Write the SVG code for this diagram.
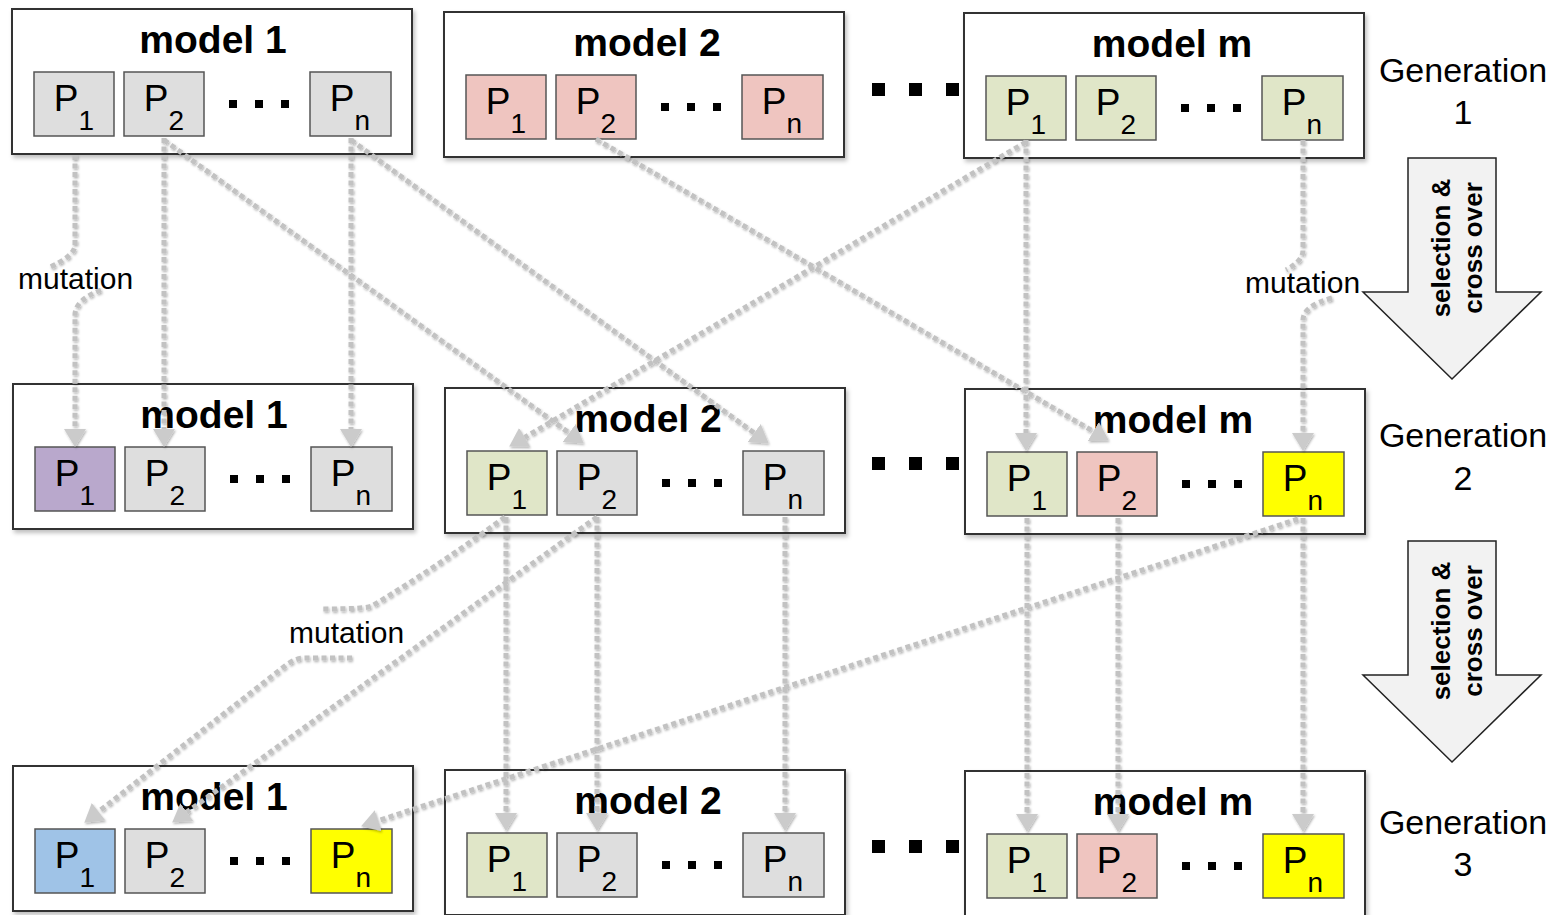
<svg xmlns="http://www.w3.org/2000/svg" width="1566" height="915" viewBox="0 0 1566 915">
<defs>
<style>
.box{fill:#fff;stroke:#333;stroke-width:2;filter:url(#bsh)}
.pb{stroke:#555;stroke-width:1.5}
.gray{fill:#dedede}.pink{fill:#efc5c0}.green{fill:#e0e6c8}.purple{fill:#b9a8cc}.blue{fill:#9fc3e7}.yellow{fill:#ffff00}
.title{font-family:"Liberation Sans",Arial,sans-serif;font-weight:bold;font-size:39px;text-anchor:middle;fill:#000}
.p{font-family:"Liberation Sans",Arial,sans-serif;font-size:37px;text-anchor:middle;fill:#000}
.sub{font-size:28px}
.d{fill:#000}
.conn{fill:none;stroke:#c2c2c2;stroke-width:5;stroke-dasharray:5 3.5;marker-end:url(#ah)}
.lbl{font-family:"Liberation Sans",Arial,sans-serif;font-size:30px;fill:#000}
.gen{font-family:"Liberation Sans",Arial,sans-serif;font-size:34px;text-anchor:middle;fill:#000}
.big{fill:#f2f2f2;stroke:#222;stroke-width:1.5}
.bigt{font-family:"Liberation Sans",Arial,sans-serif;font-weight:bold;font-size:26px;text-anchor:middle;fill:#000}
</style>
<filter id="bsh" x="-5%" y="-5%" width="115%" height="120%">
<feDropShadow dx="2" dy="3" stdDeviation="2" flood-color="#000" flood-opacity="0.25"/>
</filter>
<filter id="csh" x="-10%" y="-10%" width="120%" height="120%">
<feDropShadow dx="1" dy="1.5" stdDeviation="1" flood-color="#000" flood-opacity="0.3"/>
</filter>
<marker id="ah" markerUnits="userSpaceOnUse" markerWidth="18" markerHeight="22" viewBox="0 0 18 22" refX="0" refY="11" orient="auto">
<path d="M0,0 L18,11 L0,22 Z" fill="#cbcbcb"/>
</marker>
</defs>
<rect x="0" y="0" width="1566" height="915" fill="#fff"/>

<!-- Generation 1 -->
<g id="g1-model1">
<rect class="box" x="12" y="9" width="400" height="145"/>
<text class="title" x="213" y="53">model 1</text>
<rect class="pb gray" x="34" y="72" width="80" height="64"/>
<text class="p" x="74" y="111">P<tspan class="sub" dy="19">1</tspan></text>
<rect class="pb gray" x="124" y="72" width="80" height="64"/>
<text class="p" x="164" y="111">P<tspan class="sub" dy="19">2</tspan></text>
<rect class="d" x="229" y="100" width="8" height="8"/><rect class="d" x="255" y="100" width="8" height="8"/><rect class="d" x="281" y="100" width="8" height="8"/>
<rect class="pb gray" x="310" y="72" width="81" height="64"/>
<text class="p" x="350" y="111">P<tspan class="sub" dy="19">n</tspan></text>
</g>
<g id="g1-model2">
<rect class="box" x="444" y="12" width="400" height="145"/>
<text class="title" x="647" y="56">model 2</text>
<rect class="pb pink" x="466" y="75" width="80" height="64"/>
<text class="p" x="506" y="114">P<tspan class="sub" dy="19">1</tspan></text>
<rect class="pb pink" x="556" y="75" width="80" height="64"/>
<text class="p" x="596" y="114">P<tspan class="sub" dy="19">2</tspan></text>
<rect class="d" x="661" y="103" width="8" height="8"/><rect class="d" x="687" y="103" width="8" height="8"/><rect class="d" x="713" y="103" width="8" height="8"/>
<rect class="pb pink" x="742" y="75" width="81" height="64"/>
<text class="p" x="782" y="114">P<tspan class="sub" dy="19">n</tspan></text>
</g>
<g id="g1-modelm">
<rect class="box" x="964" y="13" width="400" height="145"/>
<text class="title" x="1172" y="57">model m</text>
<rect class="pb green" x="986" y="76" width="80" height="64"/>
<text class="p" x="1026" y="115">P<tspan class="sub" dy="19">1</tspan></text>
<rect class="pb green" x="1076" y="76" width="80" height="64"/>
<text class="p" x="1116" y="115">P<tspan class="sub" dy="19">2</tspan></text>
<rect class="d" x="1181" y="104" width="8" height="8"/><rect class="d" x="1207" y="104" width="8" height="8"/><rect class="d" x="1233" y="104" width="8" height="8"/>
<rect class="pb green" x="1262" y="76" width="81" height="64"/>
<text class="p" x="1302" y="115">P<tspan class="sub" dy="19">n</tspan></text>
</g>
<g id="g1-gap">
<rect class="d" x="872" y="83" width="13" height="13"/><rect class="d" x="909" y="83" width="13" height="13"/><rect class="d" x="946" y="83" width="13" height="13"/>
</g>

<!-- Generation 2 -->
<g id="g2-model1">
<rect class="box" x="13" y="384" width="400" height="145"/>
<text class="title" x="214" y="428">model 1</text>
<rect class="pb purple" x="35" y="447" width="80" height="64"/>
<text class="p" x="75" y="486">P<tspan class="sub" dy="19">1</tspan></text>
<rect class="pb gray" x="125" y="447" width="80" height="64"/>
<text class="p" x="165" y="486">P<tspan class="sub" dy="19">2</tspan></text>
<rect class="d" x="230" y="475" width="8" height="8"/><rect class="d" x="256" y="475" width="8" height="8"/><rect class="d" x="282" y="475" width="8" height="8"/>
<rect class="pb gray" x="311" y="447" width="81" height="64"/>
<text class="p" x="351" y="486">P<tspan class="sub" dy="19">n</tspan></text>
</g>
<g id="g2-model2">
<rect class="box" x="445" y="388" width="400" height="145"/>
<text class="title" x="648" y="432">model 2</text>
<rect class="pb green" x="467" y="451" width="80" height="64"/>
<text class="p" x="507" y="490">P<tspan class="sub" dy="19">1</tspan></text>
<rect class="pb gray" x="557" y="451" width="80" height="64"/>
<text class="p" x="597" y="490">P<tspan class="sub" dy="19">2</tspan></text>
<rect class="d" x="662" y="479" width="8" height="8"/><rect class="d" x="688" y="479" width="8" height="8"/><rect class="d" x="714" y="479" width="8" height="8"/>
<rect class="pb gray" x="743" y="451" width="81" height="64"/>
<text class="p" x="783" y="490">P<tspan class="sub" dy="19">n</tspan></text>
</g>
<g id="g2-modelm">
<rect class="box" x="965" y="389" width="400" height="145"/>
<text class="title" x="1173" y="433">model m</text>
<rect class="pb green" x="987" y="452" width="80" height="64"/>
<text class="p" x="1027" y="491">P<tspan class="sub" dy="19">1</tspan></text>
<rect class="pb pink" x="1077" y="452" width="80" height="64"/>
<text class="p" x="1117" y="491">P<tspan class="sub" dy="19">2</tspan></text>
<rect class="d" x="1182" y="480" width="8" height="8"/><rect class="d" x="1208" y="480" width="8" height="8"/><rect class="d" x="1234" y="480" width="8" height="8"/>
<rect class="pb yellow" x="1263" y="452" width="81" height="64"/>
<text class="p" x="1303" y="491">P<tspan class="sub" dy="19">n</tspan></text>
</g>
<g id="g2-gap">
<rect class="d" x="872" y="457" width="13" height="13"/><rect class="d" x="909" y="457" width="13" height="13"/><rect class="d" x="946" y="457" width="13" height="13"/>
</g>

<!-- Generation 3 -->
<g id="g3-model1">
<rect class="box" x="13" y="766" width="400" height="145"/>
<text class="title" x="214" y="810">model 1</text>
<rect class="pb blue" x="35" y="829" width="80" height="64"/>
<text class="p" x="75" y="868">P<tspan class="sub" dy="19">1</tspan></text>
<rect class="pb gray" x="125" y="829" width="80" height="64"/>
<text class="p" x="165" y="868">P<tspan class="sub" dy="19">2</tspan></text>
<rect class="d" x="230" y="857" width="8" height="8"/><rect class="d" x="256" y="857" width="8" height="8"/><rect class="d" x="282" y="857" width="8" height="8"/>
<rect class="pb yellow" x="311" y="829" width="81" height="64"/>
<text class="p" x="351" y="868">P<tspan class="sub" dy="19">n</tspan></text>
</g>
<g id="g3-model2">
<rect class="box" x="445" y="770" width="400" height="145"/>
<text class="title" x="648" y="814">model 2</text>
<rect class="pb green" x="467" y="833" width="80" height="64"/>
<text class="p" x="507" y="872">P<tspan class="sub" dy="19">1</tspan></text>
<rect class="pb gray" x="557" y="833" width="80" height="64"/>
<text class="p" x="597" y="872">P<tspan class="sub" dy="19">2</tspan></text>
<rect class="d" x="662" y="861" width="8" height="8"/><rect class="d" x="688" y="861" width="8" height="8"/><rect class="d" x="714" y="861" width="8" height="8"/>
<rect class="pb gray" x="743" y="833" width="81" height="64"/>
<text class="p" x="783" y="872">P<tspan class="sub" dy="19">n</tspan></text>
</g>
<g id="g3-modelm">
<rect class="box" x="965" y="771" width="400" height="145"/>
<text class="title" x="1173" y="815">model m</text>
<rect class="pb green" x="987" y="834" width="80" height="64"/>
<text class="p" x="1027" y="873">P<tspan class="sub" dy="19">1</tspan></text>
<rect class="pb pink" x="1077" y="834" width="80" height="64"/>
<text class="p" x="1117" y="873">P<tspan class="sub" dy="19">2</tspan></text>
<rect class="d" x="1182" y="862" width="8" height="8"/><rect class="d" x="1208" y="862" width="8" height="8"/><rect class="d" x="1234" y="862" width="8" height="8"/>
<rect class="pb yellow" x="1263" y="834" width="81" height="64"/>
<text class="p" x="1303" y="873">P<tspan class="sub" dy="19">n</tspan></text>
</g>
<g id="g3-gap">
<rect class="d" x="872" y="840" width="13" height="13"/><rect class="d" x="909" y="840" width="13" height="13"/><rect class="d" x="946" y="840" width="13" height="13"/>
</g>

<!-- Generation labels -->
<g id="gen1"><text class="gen" x="1463" y="82">Generation</text><text class="gen" x="1463" y="124">1</text></g>
<g id="gen2"><text class="gen" x="1463" y="447">Generation</text><text class="gen" x="1463" y="490">2</text></g>
<g id="gen3"><text class="gen" x="1463" y="834">Generation</text><text class="gen" x="1463" y="876">3</text></g>

<!-- Selection & crossover arrows -->
<g id="sel1">
<polygon class="big" points="1408,158 1496,158 1496,292 1541,292 1452,379 1363,292 1408,292"/>
<text class="bigt" transform="translate(1450,248) rotate(-90)">selection &amp;</text>
<text class="bigt" transform="translate(1482,248) rotate(-90)">cross over</text>
</g>
<g id="sel2">
<polygon class="big" points="1408,541 1496,541 1496,675 1541,675 1452,762 1363,675 1408,675"/>
<text class="bigt" transform="translate(1450,631) rotate(-90)">selection &amp;</text>
<text class="bigt" transform="translate(1482,631) rotate(-90)">cross over</text>
</g>

<!-- Connectors -->
<g id="connectors" filter="url(#csh)">
<path class="conn" d="M75,155 V245 Q75,256 48,268 M101,290 Q75,300 75,315 V429"/>
<path class="conn" d="M164,138 V429"/>
<path class="conn" d="M351,138 V429"/>
<path class="conn" d="M164,140 L569.2,433"/>
<path class="conn" d="M351,140 L754.2,433"/>
<path class="conn" d="M596,139 L1093.3,431.4"/>
<path class="conn" d="M1026,142 L524.7,437.4"/>
<path class="conn" d="M1026,140 V433"/>
<path class="conn" d="M1303,140 V250 Q1303,261 1286,270 M1332,298 Q1303,306 1303,320 V433"/>
<path class="conn" d="M506,517 V813"/>
<path class="conn" d="M597,517 V813"/>
<path class="conn" d="M785,517 V813"/>
<path class="conn" d="M1027,518 V814"/>
<path class="conn" d="M1118,518 V814"/>
<path class="conn" d="M1303,518 V814"/>
<path class="conn" d="M1298,519 L378.2,820.7"/>
<path class="conn" d="M505,517 Q440,565 372,606 Q366,609 323,609 M352,658 L305,658 Q295,658 285,666 L98.5,811.7"/>
<path class="conn" d="M597,517 L186.8,812.1"/>
</g>

<!-- Mutation labels -->
<g id="mut1"><text class="lbl" x="18" y="289">mutation</text></g>
<g id="mut2"><text class="lbl" x="1245" y="293">mutation</text></g>
<g id="mut3"><text class="lbl" x="289" y="643">mutation</text></g>
</svg>
